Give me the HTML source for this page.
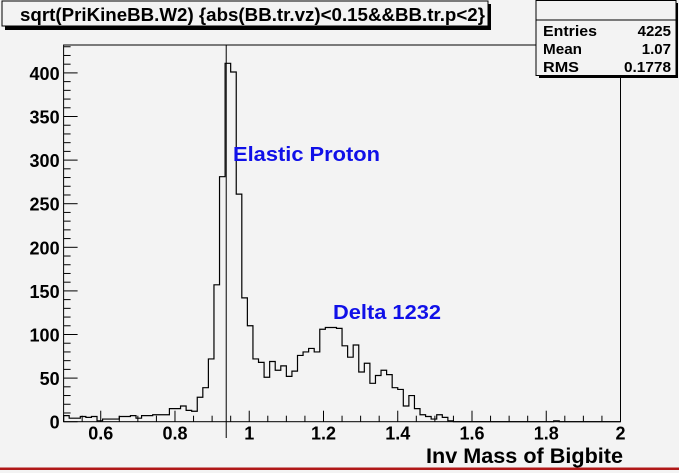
<!DOCTYPE html>
<html><head><meta charset="utf-8"><style>
html,body{margin:0;padding:0;background:#f3f3f3;}
svg{display:block;font-family:"Liberation Sans",Arial,sans-serif;font-weight:bold;}
</style></head><body>
<svg id="c" width="679" height="473" viewBox="0 0 679 473" xmlns="http://www.w3.org/2000/svg">
<rect x="0" y="0" width="679" height="473" fill="#f3f3f3"/>
<rect x="0" y="467.5" width="679" height="2.5" fill="#b01818"/>
<g>
<rect x="5" y="4" width="486" height="26" fill="#000"/>
<rect x="2" y="1" width="486" height="25" fill="#f3f3f3" stroke="#000" stroke-width="1"/>
<text x="20" y="21" font-size="18" textLength="465" lengthAdjust="spacingAndGlyphs">sqrt(PriKineBB.W2) {abs(BB.tr.vz)&lt;0.15&amp;&amp;BB.tr.p&lt;2}</text>
</g>
<g id="plot"></g>
<g>
<rect x="539" y="3" width="139" height="75" fill="#000"/>
<rect x="536" y="0.5" width="140" height="75" fill="#f3f3f3" stroke="#000"/>
<line x1="536" y1="20" x2="676" y2="20" stroke="#000"/>
<text x="543" y="36" font-size="15" textLength="54" lengthAdjust="spacingAndGlyphs">Entries</text><text x="671" y="36" font-size="15" text-anchor="end">4225</text>
<text x="543" y="54" font-size="15" textLength="39" lengthAdjust="spacingAndGlyphs">Mean</text><text x="671" y="54" font-size="15" text-anchor="end">1.07</text>
<text x="543" y="72" font-size="15" textLength="36" lengthAdjust="spacingAndGlyphs">RMS</text><text x="671" y="72" font-size="15" text-anchor="end" textLength="47" lengthAdjust="spacingAndGlyphs">0.1778</text>
</g>
<text x="233" y="161" font-size="20" fill="#1010e8" textLength="147" lengthAdjust="spacingAndGlyphs">Elastic Proton</text>
<text x="333" y="319" font-size="20" fill="#1010e8" textLength="108" lengthAdjust="spacingAndGlyphs">Delta 1232</text>
<text x="426" y="463" font-size="21" textLength="197" lengthAdjust="spacingAndGlyphs">Inv Mass of Bigbite</text>
</svg>
<script>
const xMin = 0.5, xMax = 2.0, nBins = 100;
const counts = [7,4,4,6,5,6,1,3,3,3,6,6,7,4,7,7,8,8,8,15,15,18,13,12,28,39,72,157,281,411,401,261,142,110,72,68,51,69,59,64,52,58,76,80,84,80,106,108,108,107,87,74,88,57,67,44,53,59,54,39,37,18,30,15,8,6,3,8,5,1,0,0,0,0,0,0,0,0,0,0,0,0,0,0,0,0,0,0,1,0,0,0,0,0,0,0,0,0,0,0];
const yTicks = [0,50,100,150,200,250,300,350,400];
const xTicks = [0.6,0.8,1,1.2,1.4,1.6,1.8,2];
const markerX = [0.938];
const L=63.6,R=620.5,T=45,B=421.7,yMaxV=432;
function sx(v){return L+(v-xMin)/(xMax-xMin)*(R-L);}
function sy(v){return B-v/yMaxV*(B-T);}
const NS="http://www.w3.org/2000/svg";
const g=document.getElementById('plot');
function mk(tag,attrs,parent){const e=document.createElementNS(NS,tag);for(const k in attrs)e.setAttribute(k,attrs[k]);(parent||g).appendChild(e);return e;}
const frame=mk('rect',{x:L,y:T,width:R-L,height:B-T,fill:'none',stroke:'#000','stroke-width':1});


const bw=(xMax-xMin)/nBins;
let d='M'+sx(xMin)+','+sy(0);
for(let i=0;i<counts.length;i++){d+=' L'+sx(xMin+i*bw)+','+sy(counts[i])+' L'+sx(xMin+(i+1)*bw)+','+sy(counts[i]);}
d+=' L'+sx(xMax)+','+sy(0);
const h=mk('path',{d:d,fill:'none',stroke:'#000','stroke-width':1.2});


markerX.forEach(m=>{const l=mk('line',{x1:sx(m),x2:sx(m),y1:T,y2:438,stroke:'#000','stroke-width':1});

});
for(let v=0;v<=yMaxV;v+=10){const maj=v%50===0;mk('line',{x1:L,x2:L+(maj?14:7),y1:sy(v),y2:sy(v),stroke:'#000'});}
yTicks.forEach(v=>{const t=mk('text',{x:L-4,y:sy(v)+7,'font-size':18,'text-anchor':'end'});t.textContent=v;

});
for(let k=0;k<=30;k++){const v=xMin+k*0.05;const maj=Math.abs((v*10)%2)<0.01||Math.abs((v*10)%2-2)<0.01;mk('line',{x1:sx(v),x2:sx(v),y1:B,y2:B-(maj?11:6),stroke:'#000'});}
xTicks.forEach(v=>{const t=mk('text',{x:sx(v),y:B+18,'font-size':18,'text-anchor':'middle'});t.textContent=String(v);

});
</script>
</body></html>
